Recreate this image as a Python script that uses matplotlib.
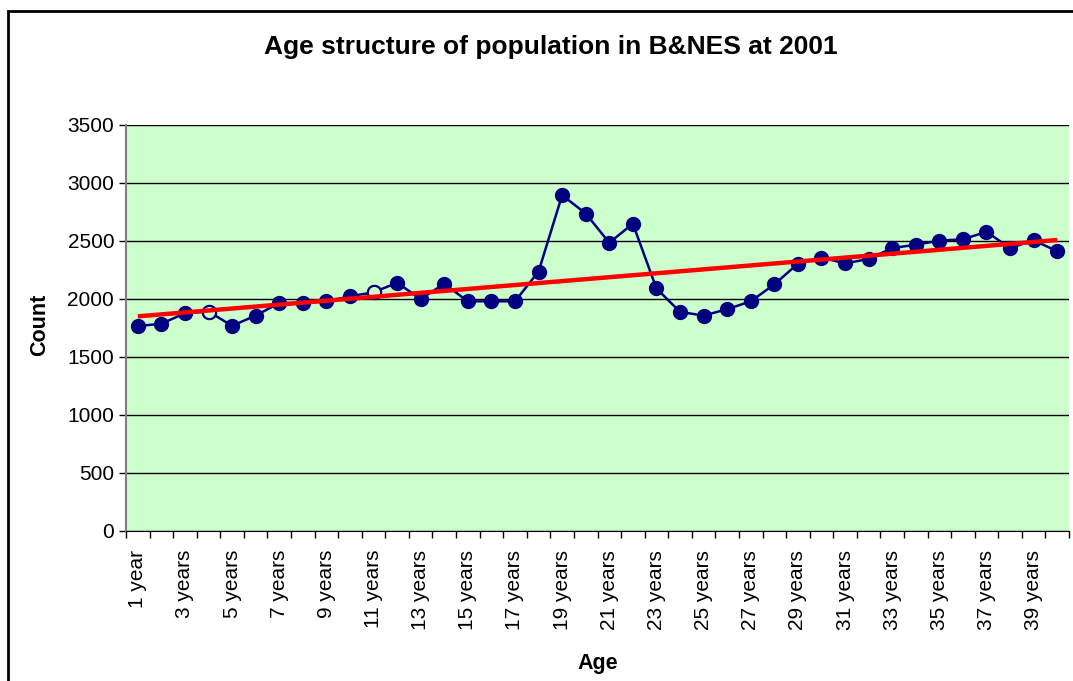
import numpy as np
import matplotlib
matplotlib.use("Agg")
import matplotlib.pyplot as plt
from matplotlib.patches import Rectangle

plt.rcParams['font.family'] = ['Liberation Sans', 'DejaVu Sans']

ages = ["1 year"] + [f"{i} years" for i in range(2, 41)]
counts = [1766, 1787, 1877, 1892, 1769, 1857, 1965, 1965, 1980, 2023,
          2058, 2140, 2000, 2131, 1980, 1980, 1980, 2237, 2895, 2737,
          2485, 2649, 2091, 1889, 1857, 1912, 1980, 2126, 2304, 2357,
          2307, 2345, 2439, 2468, 2503, 2515, 2579, 2439, 2506, 2412]
hollow_idx = [3, 10]

navy = "#000080"
fig = plt.figure(figsize=(10.73, 6.81), dpi=100)
ax = fig.add_axes([126/1073, 1-531/681, (1069-126)/1073, (531-125)/681])
ax.set_facecolor("#CCFFCC")

x = np.arange(len(counts))
y = np.array(counts)
ax.plot(x, y, color=navy, lw=1.8, marker='o', ms=10, mfc=navy, mec=navy, zorder=3)
ax.plot(x[hollow_idx], y[hollow_idx], ls='none', marker='o', ms=9.5, mfc='#CCFFCC',
        mec=navy, mew=1.5, zorder=4)
slope, icpt = np.polyfit(x, y, 1)
ax.plot([x[0], x[-1]], [icpt + slope*x[0], icpt + slope*x[-1]], color='#FF0000',
        lw=3.2, zorder=5, solid_capstyle='butt')

ax.set_xlim(-0.5, len(counts) - 0.5)
ax.set_ylim(0, 3500)
ax.set_yticks(np.arange(0, 3501, 500))
ax.yaxis.grid(True, color='black', lw=1)
ax.set_axisbelow(True)

ax.set_xticks(x[::2])
ax.set_xticklabels(ages[::2], rotation=90, va='top', ha='center')
ax.set_xticks(np.arange(-0.5, len(counts), 1), minor=True)
ax.tick_params(axis='x', which='major', length=0, pad=13.5, labelsize=15)
ax.tick_params(axis='x', which='minor', length=5, width=1, color='black')
ax.tick_params(axis='y', length=5, width=1, labelsize=15, color='black')

for s in ['top', 'right']:
    ax.spines[s].set_visible(False)
ax.spines['left'].set_color('#808080')
ax.spines['left'].set_linewidth(1.5)
ax.spines['bottom'].set_color('black')

fig.text(551/1073, 1-47/681, "Age structure of population in B&NES at 2001",
         ha='center', va='center', fontsize=19, fontweight='bold')
fig.text(40/1073, 1-325/681, "Count", rotation=90, ha='center', va='center',
         fontsize=15.5, fontweight='bold')
fig.text(598/1073, 1-663/681, "Age", ha='center', va='center',
         fontsize=15.5, fontweight='bold')

fig.patches.append(Rectangle((8/1073, -0.1), 1.2, 1-11/681+0.1, transform=fig.transFigure,
                             fill=False, ec='black', lw=2))
fig.savefig("out.png", dpi=100)
